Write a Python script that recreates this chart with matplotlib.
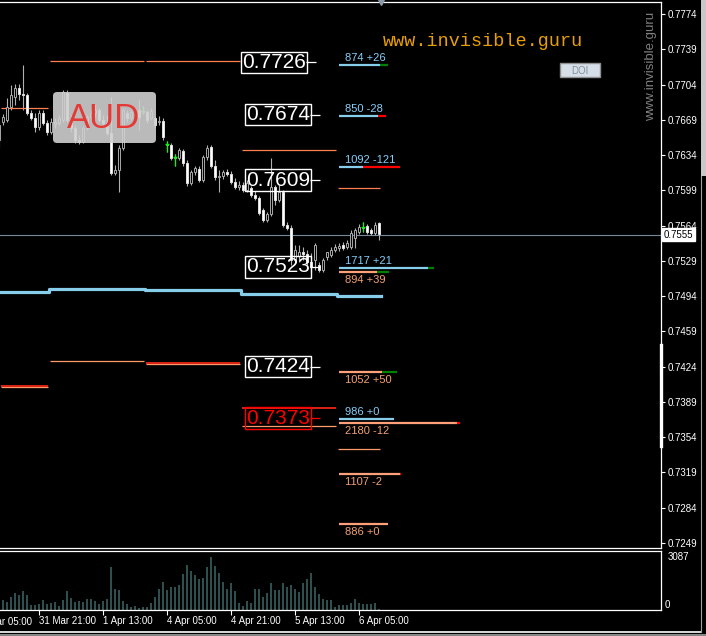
import numpy as np
import matplotlib
matplotlib.use("Agg")
import matplotlib.pyplot as plt
import matplotlib.transforms as mtransforms
from matplotlib.patches import Rectangle, FancyBboxPatch
from matplotlib.lines import Line2D

plt.rcParams['font.family'] = ['Liberation Sans', 'DejaVu Sans']

# H1 candles (oldest -> newest)
opens = [0.76490, 0.76668, 0.76688, 0.76817, 0.76916, 0.77006, 0.76946, 0.76936, 0.76757, 0.76708,
         0.76619, 0.76757, 0.76658, 0.76569, 0.76648, 0.76658, 0.76688, 0.76956, 0.76688, 0.76609,
         0.76490, 0.76470, 0.76609, 0.76718, 0.76757, 0.76787, 0.76688, 0.76658, 0.76559, 0.76162,
         0.76192, 0.76410, 0.76757, 0.76708, 0.76748, 0.76787, 0.76767, 0.76767, 0.76708, 0.76708,
         0.76668, 0.76678, 0.76440, 0.76440, 0.76311, 0.76311, 0.76380, 0.76261, 0.76063, 0.76172,
         0.76202, 0.76093, 0.76321, 0.76420, 0.76231, 0.76122, 0.76132, 0.76172, 0.76152, 0.76073,
         0.76023, 0.76043, 0.75993, 0.76013, 0.75944, 0.75914, 0.75795, 0.75696, 0.75755, 0.76023,
         0.75894, 0.75973, 0.75646, 0.75616, 0.75299, 0.75338, 0.75378, 0.75358, 0.75279, 0.75299,
         0.75249, 0.75199, 0.75328, 0.75348, 0.75398, 0.75418, 0.75447, 0.75428, 0.75428, 0.75517,
         0.75576, 0.75616, 0.75636, 0.75596, 0.75567, 0.75666]
highs = [0.76688, 0.76748, 0.76906, 0.77035, 0.77045, 0.77045, 0.77234, 0.76956, 0.76787, 0.76757,
         0.76787, 0.76787, 0.76688, 0.76708, 0.76708, 0.76738, 0.76986, 0.76986, 0.76738, 0.76638,
         0.76539, 0.76628, 0.76738, 0.76787, 0.76837, 0.76807, 0.76738, 0.76738, 0.76916, 0.76241,
         0.76440, 0.76807, 0.76787, 0.76787, 0.76807, 0.76887, 0.76827, 0.76787, 0.76807, 0.76728,
         0.76728, 0.76708, 0.76480, 0.76460, 0.76351, 0.76410, 0.76400, 0.76291, 0.76192, 0.76231,
         0.76231, 0.76341, 0.76440, 0.76440, 0.76291, 0.76192, 0.76192, 0.76202, 0.76182, 0.76112,
         0.76083, 0.76073, 0.76093, 0.76033, 0.75983, 0.75934, 0.75815, 0.75775, 0.76311, 0.76043,
         0.76043, 0.75993, 0.75676, 0.75646, 0.75447, 0.75447, 0.75428, 0.75398, 0.75368, 0.75467,
         0.75279, 0.75318, 0.75378, 0.75428, 0.75457, 0.75467, 0.75477, 0.75497, 0.75596, 0.75616,
         0.75656, 0.75676, 0.75656, 0.75616, 0.75676, 0.75676]
lows = [0.76420, 0.76638, 0.76668, 0.76787, 0.76837, 0.76887, 0.76787, 0.76738, 0.76688, 0.76569,
        0.76589, 0.76638, 0.76539, 0.76549, 0.76609, 0.76638, 0.76668, 0.76668, 0.76569, 0.76460,
        0.76450, 0.76460, 0.76589, 0.76688, 0.76718, 0.76668, 0.76638, 0.76539, 0.76142, 0.76142,
        0.75973, 0.76390, 0.76668, 0.76688, 0.76718, 0.76589, 0.76748, 0.76658, 0.76688, 0.76619,
        0.76638, 0.76490, 0.76370, 0.76291, 0.76231, 0.76291, 0.76231, 0.76033, 0.76043, 0.76142,
        0.76073, 0.76073, 0.76291, 0.76212, 0.76093, 0.75973, 0.76102, 0.76132, 0.76053, 0.76003,
        0.75993, 0.75973, 0.75973, 0.75924, 0.75894, 0.75745, 0.75676, 0.75676, 0.75735, 0.75844,
        0.75874, 0.75626, 0.75596, 0.75249, 0.75279, 0.75279, 0.75299, 0.75249, 0.75179, 0.75199,
        0.75179, 0.75179, 0.75299, 0.75328, 0.75378, 0.75388, 0.75398, 0.75408, 0.75408, 0.75418,
        0.75557, 0.75576, 0.75557, 0.75547, 0.75547, 0.75497]
closes = [0.76638, 0.76718, 0.76817, 0.76936, 0.77006, 0.76946, 0.76936, 0.76757, 0.76708, 0.76619,
          0.76757, 0.76658, 0.76569, 0.76668, 0.76668, 0.76708, 0.76966, 0.76688, 0.76609, 0.76490,
          0.76470, 0.76609, 0.76718, 0.76757, 0.76787, 0.76688, 0.76658, 0.76559, 0.76162, 0.76192,
          0.76410, 0.76787, 0.76708, 0.76767, 0.76787, 0.76718, 0.76777, 0.76688, 0.76777, 0.76638,
          0.76678, 0.76519, 0.76450, 0.76311, 0.76321, 0.76390, 0.76261, 0.76063, 0.76172, 0.76212,
          0.76093, 0.76321, 0.76410, 0.76231, 0.76122, 0.76132, 0.76172, 0.76152, 0.76073, 0.76023,
          0.76043, 0.75993, 0.76063, 0.75944, 0.75914, 0.75765, 0.75696, 0.75755, 0.76023, 0.75894,
          0.75973, 0.75646, 0.75616, 0.75299, 0.75398, 0.75378, 0.75358, 0.75279, 0.75229, 0.75447,
          0.75199, 0.75299, 0.75378, 0.75398, 0.75428, 0.75437, 0.75418, 0.75467, 0.75567, 0.75596,
          0.75626, 0.75626, 0.75576, 0.75567, 0.75646, 0.75557]
volumes = [594, 594, 475, 772, 970, 891, 1128, 891, 297, 297, 376, 574, 337, 396, 495, 238,
           594, 1128, 713, 475, 535, 475, 614, 634, 535, 376, 535, 634, 2495, 1228, 1188, 535,
           376, 178, 238, 139, 178, 178, 436, 733, 1228, 1604, 1188, 1366, 1327, 1485, 2119, 2614,
           2257, 2039, 1802, 1841, 2495, 3087, 2554, 2178, 1643, 1247, 1544, 1128, 396, 238, 535, 416,
           1228, 1228, 772, 1010, 1544, 1188, 1188, 1544, 1366, 1485, 1247, 1069, 1544, 1782, 2138, 1366,
           950, 653, 594, 594, 178, 297, 297, 297, 416, 653, 396, 356, 337, 376, 416, 79]
signal_bars = [36, 42, 44, 91]

date_ticks = [-6, 10, 26, 42, 58, 74, 90]
date_labels = ['31 Mar 05:00', '31 Mar 21:00', '1 Apr 13:00', '4 Apr 05:00',
               '4 Apr 21:00', '5 Apr 13:00', '6 Apr 05:00']
price_ticks = [0.7774, 0.7739, 0.7704, 0.7669, 0.7634, 0.7599, 0.7564, 0.7529,
               0.7494, 0.7459, 0.7424, 0.7389, 0.7354, 0.7319, 0.7284, 0.7249]
bid = 0.7555
vol_max = 3087

# levels from the indicator
levels = [0.7726, 0.7674, 0.7609, 0.7523, 0.7424, 0.7373]
level_x = [68.75, 69.75, 69.75, 69.75, 69.75, 69.75]

# daily lines
day_edges = [0.25, 12.5, 36.5, 60.5, 84.5, 95.5]
base_line = [0.74978, 0.75008, 0.74996, 0.74958, 0.74945]
upper_line = [0.76804, 0.77271, 0.77271, 0.76387, 0.76010]
lower_line = [0.74033, 0.74293, 0.74262, 0.73648, 0.73420]
lower_red = [0.74051, np.nan, 0.74272, 0.73833, np.nan]

# volume profile at levels
vp_prices = [0.77234, 0.76728, 0.76224, 0.75222, 0.75183, 0.74182, 0.73720, 0.73684, 0.73175, 0.72678]
vp_volumes = [874, 850, 1092, 1717, 894, 1052, 986, 2180, 1107, 886]
vp_delta = [26, -28, -121, 21, 39, 50, 0, -12, -2, 0]
vp_buy = [True, True, True, True, False, False, True, False, False, False]

W, H = 706, 636
def fx(x):
    return x / W
def fy(y):
    return 1 - y / H

fig = plt.figure(figsize=(W / 100, H / 100), dpi=100, facecolor='black')
ax = fig.add_axes([0, fy(548), 661 / W, 546 / H], facecolor='black')
axv = fig.add_axes([0, fy(610), 661 / W, 59 / H], facecolor='black')

idx = np.arange(len(closes))
o = np.array(opens); c = np.array(closes); hi = np.array(highs); lo = np.array(lows)
bull = c >= o
bottoms = np.minimum(o, c)
heights = np.maximum(np.abs(c - o), 0.00004)

ax.vlines(idx, lo, hi, color='#b0b0b0', lw=0.8, zorder=2)
ax.bar(idx[bull], heights[bull], bottom=bottoms[bull], width=0.68,
       facecolor='black', edgecolor='#a8a8a8', lw=0.7, zorder=3)
ax.bar(idx[~bull], heights[~bull], bottom=bottoms[~bull], width=0.68,
       facecolor='white', edgecolor='#e0e0e0', lw=0.7, zorder=3)
sb = np.array(signal_bars)
ax.vlines(sb, lo[sb], hi[sb], color='#00ff00', lw=0.9, zorder=4)
ax.hlines(c[sb], sb - 0.45, sb + 0.45, color='#00ff00', lw=0.9, zorder=4)

# daily lines
starts = np.array(day_edges[:-1]) + 0.25
ends = np.array(day_edges[1:]) - 0.25
ax.step(day_edges, base_line + [base_line[-1]], where='post', color='#87ceeb', lw=2.3, zorder=2)
ax.hlines(upper_line, starts, ends, color='#ff7f50', lw=0.9, zorder=2)
ax.hlines(lower_line, starts, ends, color='#ff9a6a', lw=0.9, zorder=2)
ax.hlines(lower_red, starts, ends, color='#ff2a1a', lw=1.2, zorder=2)

ax.axhline(bid, color='#778899', lw=0.8, zorder=1)

# level boxes
for lv, lx in zip(levels, level_x):
    col = 'red' if lv == min(levels) else 'white'
    ax.text(lx, lv, f'{lv:.4f}', color=col, fontsize=15, ha='center', va='center', zorder=6,
            bbox=dict(boxstyle='square,pad=0.06', fc='none', ec=col, lw=1.0))
    ax.hlines(lv, lx + 8.1, lx + 10.6, color=col, lw=0.9, zorder=6)

# volume profile lines
vp_start = 85.0
for p, v, d, b in zip(vp_prices, vp_volumes, vp_delta, vp_buy):
    total = v * 0.0139
    tip = abs(d) * 0.075
    lc = '#87ceeb' if b else '#ffa07a'
    tc = '#87cefa' if b else '#f4a070'
    ax.hlines(p, vp_start, vp_start + total - tip, color=lc, lw=1.6, zorder=5)
    if tip > 0:
        ax.hlines(p, vp_start + total - tip, vp_start + total,
                  color='#008000' if d > 0 else '#ff0000', lw=1.6, zorder=5)
    ax.annotate(f'{v} {d:+d}', (vp_start, p),
                xytext=(6, 7 if b else -8), textcoords='offset pixels',
                color=tc, fontsize=8, ha='left', va='center', zorder=5)

ax.set_xlim(0.25, 165.5)
ax.set_ylim(0.72440, 0.77859)
ax.yaxis.tick_right()
ax.set_yticks(price_ticks)
ax.set_yticklabels([f'{p:.4f}' for p in price_ticks])
ax.tick_params(axis='y', colors='white', labelsize=7, length=3, width=0.8, pad=2)
ax.set_xticks([])
for s in ['top', 'right', 'bottom']:
    ax.spines[s].set_color('white')
    ax.spines[s].set_linewidth(0.9)
ax.spines['left'].set_visible(False)

btrans = mtransforms.blended_transform_factory(ax.transAxes, ax.transData)
ax.text(1.004, bid, f'{bid:.4f}', transform=btrans, color='black', fontsize=7, ha='left', va='center',
        zorder=10, clip_on=False, bbox=dict(boxstyle='square,pad=0.15', fc='white', ec='white'))
ax.plot([1.0, 1.0], [0.74455, 0.73452], transform=btrans, color='white', lw=2.4, clip_on=False, zorder=10)
ax.plot([95.5], [1.0], transform=mtransforms.blended_transform_factory(ax.transData, ax.transAxes),
        marker='v', color='#8a9aa8', markersize=5, clip_on=False, zorder=10)

# volumes
axv.bar(idx, volumes, width=0.72, color='#2f4f4f')
axv.set_xlim(0.25, 165.5)
axv.set_ylim(0, 3436)
axv.set_yticks([])
axv.set_xticks(date_ticks[1:])
axv.set_xticklabels(date_labels[1:])
axv.tick_params(axis='x', colors='white', labelsize=7, length=3.5, width=0.8, pad=1)
for lbl in axv.get_xticklabels():
    lbl.set_ha('left')
axv.text(date_ticks[0], -0.12, date_labels[0],
         transform=mtransforms.blended_transform_factory(axv.transData, axv.transAxes),
         color='white', fontsize=7, ha='left', va='top', clip_on=False)
for s in ['top', 'right', 'bottom']:
    axv.spines[s].set_color('white')
    axv.spines[s].set_linewidth(0.9)
axv.spines['left'].set_visible(False)
vtrans = mtransforms.blended_transform_factory(axv.transAxes, axv.transData)
axv.text(1.01, vol_max, str(vol_max), transform=vtrans, color='white', fontsize=7, ha='left', va='center')
axv.text(1.006, 0, '0', transform=vtrans, color='white', fontsize=7, ha='left', va='bottom')

# overlays
fig.add_artist(FancyBboxPatch((fx(53), fy(143)), fx(103), 51 / H, boxstyle='round,pad=0,rounding_size=0.006',
                              transform=fig.transFigure, fc='#d0d0d0', ec='none', alpha=0.9, zorder=20))
fig.text(fx(104), fy(118), 'AUD', color='#e53935', fontsize=25, ha='center', va='center', zorder=21)
fig.text(fx(383), fy(42), 'www.invisible.guru', family='Liberation Mono', color='#e8a000',
         fontsize=13.3, ha='left', va='center')
fig.text(fx(651), fy(66), 'www.invisible.guru', color='#808080', fontsize=9.5, rotation=90,
         ha='center', va='center')
fig.add_artist(Rectangle((fx(560), fy(77)), fx(40), 14 / H, transform=fig.transFigure,
                         fc='#d6dfe8', ec='#909090', lw=1, zorder=20))
fig.text(fx(580), fy(70.5), 'DOI', color='#8090a0', fontsize=7, ha='center', va='center', zorder=21)

# window frame
fig.add_artist(Line2D([0, fx(701)], [fy(632), fy(632)], color='white', lw=1.2))
fig.add_artist(Line2D([0, 1], [fy(635), fy(635)], color='#a0a0a0', lw=1.2))
fig.add_artist(Rectangle((fx(701), fy(176)), fx(5), 176 / H, transform=fig.transFigure,
                         fc='#c8c8c8', ec='none'))
fig.add_artist(Line2D([fx(701), fx(701)], [fy(632), fy(176)], color='#a0a0a0', lw=0.8))

fig.savefig('out.png', dpi=100, facecolor='black')
